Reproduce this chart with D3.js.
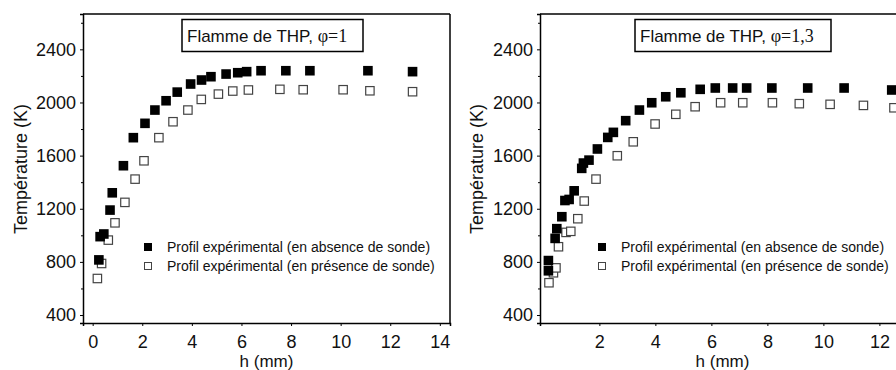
<!DOCTYPE html>
<html>
<head>
<meta charset="utf-8">
<script src="https://cdn.jsdelivr.net/npm/d3@7"></script>
<style>
  body { margin: 0; background: #fff; }
  text { font-family: "Liberation Sans", Arial, sans-serif; }
</style>
</head>
<body>
<script>
// phi = 1 : profile without probe (filled) and with probe (open)
var h1Abs = [0.25, 0.3, 0.45, 0.7, 0.79, 1.24, 1.64, 2.11, 2.51, 2.96, 3.41, 3.95, 4.39, 4.77, 5.38, 5.85, 6.21, 6.79, 7.79, 8.76, 11.1, 12.9];
var t1Abs = [815, 990, 1010, 1190, 1320, 1524, 1735, 1843, 1943, 2013, 2078, 2139, 2169, 2194, 2214, 2224, 2232, 2239, 2239, 2239, 2239, 2232];
var h1Pres = [0.19, 0.36, 0.63, 0.9, 1.3, 1.71, 2.07, 2.67, 3.24, 3.84, 4.38, 5.07, 5.65, 6.28, 7.55, 8.49, 10.1, 11.18, 12.9];
var t1Pres = [675, 788, 964, 1094, 1248, 1423, 1561, 1735, 1855, 1943, 2023, 2063, 2086, 2094, 2099, 2096, 2096, 2088, 2081];

// phi = 1,3
var h2Abs = [0.18, 0.18, 0.42, 0.48, 0.66, 0.77, 0.92, 1.1, 1.37, 1.43, 1.63, 1.93, 2.3, 2.5, 2.94, 3.43, 3.87, 4.37, 4.91, 5.6, 6.14, 6.76, 7.26, 8.16, 9.44, 10.74, 12.44];
var t2Abs = [810, 733, 977, 1050, 1140, 1262, 1270, 1335, 1504, 1544, 1566, 1650, 1737, 1775, 1863, 1943, 1998, 2043, 2073, 2099, 2109, 2109, 2109, 2109, 2109, 2109, 2094];
var h2Pres = [0.2, 0.36, 0.45, 0.54, 0.81, 0.98, 1.23, 1.46, 1.88, 2.64, 3.21, 3.99, 4.73, 5.42, 6.33, 7.12, 8.18, 9.14, 10.24, 11.43, 12.52];
var t2Pres = [643, 718, 755, 914, 1022, 1030, 1125, 1258, 1423, 1599, 1704, 1838, 1911, 1968, 1998, 1998, 1998, 1991, 1986, 1978, 1960];

var yTicks = [400, 800, 1200, 1600, 2000, 2400];
var yMinor = [600, 1000, 1400, 1800, 2200, 2600];
var xTicks1 = [0, 2, 4, 6, 8, 10, 12, 14];
var xTicks2 = [2, 4, 6, 8, 10, 12];

var legendLabels = ["Profil expérimental (en absence de sonde)", "Profil expérimental (en présence de sonde)"];
var titles = ["1", "1,3"];

var width = 896, height = 370;

var svg = d3.select("body").append("svg")
    .attr("width", width)
    .attr("height", height);

var y = d3.scaleLinear().domain([340, 2666]).range([323, 14]);

function drawPanel(opt) {
  var x = d3.scaleLinear().domain(opt.xDomain).range([opt.left, opt.right]);
  var g = svg.append("g");

  // frame top / right
  g.append("line")
      .attr("x1", opt.left).attr("x2", opt.right)
      .attr("y1", 14).attr("y2", 14)
      .attr("stroke", "#000").attr("stroke-width", 1.5);
  g.append("line")
      .attr("x1", opt.right).attr("x2", opt.right)
      .attr("y1", 14).attr("y2", 323)
      .attr("stroke", "#000").attr("stroke-width", 1.5);

  // minor y ticks
  g.append("g")
      .attr("transform", "translate(" + opt.left + ",0)")
      .call(d3.axisLeft(y).tickValues(yMinor).tickSize(2).tickFormat(""))
      .call(function(s) { s.select(".domain").remove(); });

  // y axis
  var ya = g.append("g")
      .attr("transform", "translate(" + opt.left + ",0)")
      .call(d3.axisLeft(y).tickValues(yTicks).tickFormat(d3.format("d"))
        .tickSizeOuter(0).tickSize(3).tickPadding(4));
  ya.selectAll("text").attr("font-size", 18).attr("fill", "#111");
  ya.select(".domain").attr("stroke-width", 1.5);

  // x axis
  var xa = g.append("g")
      .attr("transform", "translate(0,323)")
      .call(d3.axisBottom(x).tickValues(opt.xTicks).tickFormat(d3.format("d"))
        .tickSizeOuter(0).tickSize(3).tickPadding(9));
  xa.selectAll("text").attr("font-size", 18).attr("fill", "#111");
  xa.select(".domain").attr("stroke-width", 1.5);

  // axis titles
  g.append("text")
      .attr("transform", "translate(" + opt.yLabelX + ",169) rotate(-90)")
      .attr("text-anchor", "middle")
      .attr("dy", "0.35em")
      .attr("font-size", 18)
      .attr("fill", "#111")
      .text("Température (K)");
  g.append("text")
      .attr("x", opt.xLabelX).attr("y", 366.5)
      .attr("text-anchor", "middle")
      .attr("font-size", 17)
      .attr("fill", "#111")
      .text("h (mm)");

  // open squares (with probe)
  g.selectAll(".pres")
    .data(opt.hPres.map(function(d, i) { return [d, opt.tPres[i]]; }))
    .enter().append("rect")
      .attr("x", function(d) { return x(d[0]) - 4.2; })
      .attr("y", function(d) { return y(d[1]) - 4.2; })
      .attr("width", 8.4).attr("height", 8.4)
      .attr("fill", "#fff")
      .attr("stroke", "#444")
      .attr("stroke-width", 1.2);

  // filled squares (without probe)
  g.selectAll(".abs")
    .data(opt.hAbs.map(function(d, i) { return [d, opt.tAbs[i]]; }))
    .enter().append("rect")
      .attr("x", function(d) { return x(d[0]) - 4.8; })
      .attr("y", function(d) { return y(d[1]) - 4.8; })
      .attr("width", 9.6).attr("height", 9.6)
      .attr("fill", "#000");

  // title box
  var tb = g.append("g");
  tb.append("rect")
      .attr("x", opt.boxX).attr("y", 19.5)
      .attr("width", opt.boxW).attr("height", 32)
      .attr("fill", "#fff").attr("stroke", "#000").attr("stroke-width", 1.5);
  var tt = tb.append("text")
      .attr("x", opt.boxX + 5).attr("y", 42)
      .attr("font-size", 17)
      .attr("fill", "#111");
  tt.append("tspan").text("Flamme de THP, ");
  tt.append("tspan")
      .attr("font-family", "Liberation Serif, Times New Roman, serif")
      .attr("font-size", 18)
      .text("φ=" + opt.phi);

  // legend
  var lg = g.append("g");
  lg.append("rect")
      .attr("x", opt.legX - 4).attr("y", 247 - 4)
      .attr("width", 8).attr("height", 8).attr("fill", "#000");
  lg.append("rect")
      .attr("x", opt.legX - 3.5).attr("y", 266 - 3.5)
      .attr("width", 7).attr("height", 7)
      .attr("fill", "#fff").attr("stroke", "#444").attr("stroke-width", 1);
  lg.selectAll(".lt")
    .data(legendLabels)
    .enter().append("text")
      .attr("x", opt.legX + 19)
      .attr("y", function(d, i) { return 252 + i * 19; })
      .attr("font-size", 14)
      .attr("fill", "#111")
      .text(function(d) { return d; });
}

drawPanel({
  left: 83, right: 450, xDomain: [-0.39, 14.41], xTicks: xTicks1,
  hAbs: h1Abs, tAbs: t1Abs, hPres: h1Pres, tPres: t1Pres,
  yLabelX: 20.5, xLabelX: 266.5, boxX: 182, boxW: 181, phi: titles[0], legX: 148
});

drawPanel({
  left: 540, right: 946.6, xDomain: [-0.12, 14.4], xTicks: xTicks2,
  hAbs: h2Abs, tAbs: t2Abs, hPres: h2Pres, tPres: t2Pres,
  yLabelX: 476.5, xLabelX: 722.5, boxX: 635, boxW: 196, phi: titles[1], legX: 602
});
</script>
</body>
</html>
